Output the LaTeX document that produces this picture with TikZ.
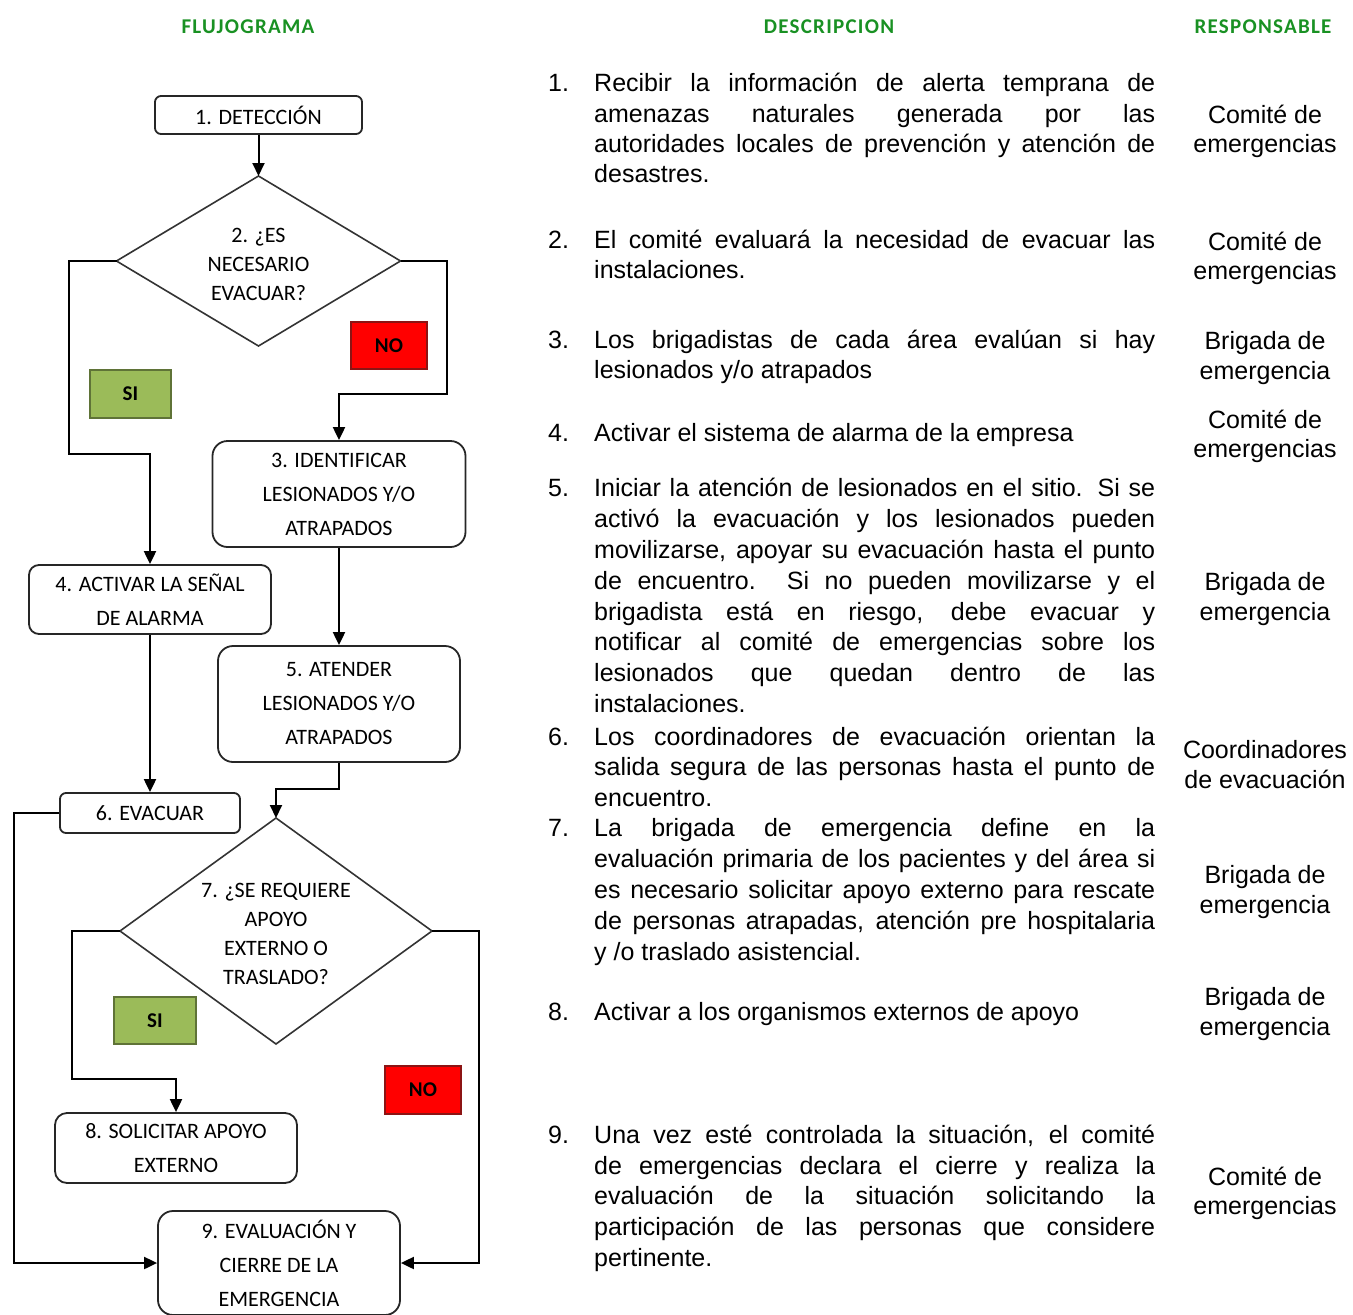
\documentclass[tikz,border=0pt]{standalone}
\usepackage{fontspec}
\setmainfont{Liberation Sans}
\newfontfamily\flowfont{Carlito}
\usetikzlibrary{arrows.meta,shapes.geometric}
\definecolor{hdrgreen}{RGB}{25,145,35}
\definecolor{sigreen}{RGB}{155,187,89}
\definecolor{siborder}{RGB}{95,115,55}
\definecolor{noborder}{RGB}{140,20,20}
\newcommand\jusline[3]{\node[dtxt] (#1) at (594,#2) {\makebox[561pt][s]{#3}};}
\newcommand\lefline[3]{\node[dtxt] (#1) at (594,#2) {#3};}
\newcommand\numline[3]{\node[dtxt] (#1) at (548,#2) {#3};}
\newcommand\respline[3]{\node[resp] (#1) at (1265,#2) {#3};}
\tikzset{
  box/.style={draw=black!85, line width=1.8pt, rounded corners=#1, align=center, inner sep=0pt,
    fill=white, font=\flowfont\fontsize{22}{34}\selectfont},
  box/.default=8,
  dia/.style={draw=black!80, line width=1.6pt, diamond, inner sep=0pt, outer sep=0pt},
  dtext/.style={align=center, inner sep=0pt, font=\flowfont\fontsize{22}{29}\selectfont},
  lab/.style={line width=1.8pt, inner sep=0pt, font=\flowfont\bfseries\fontsize{21}{24}\selectfont},
  conn/.style={draw=black, line width=2pt, -{Triangle[length=13pt,width=12pt]}},
  hdr/.style={anchor=base, inner sep=0pt, text=hdrgreen,
    font=\flowfont\bfseries\fontsize{21}{24}\selectfont\addfontfeatures{LetterSpace=6}},
  dtxt/.style={anchor=base west, inner sep=0pt, font=\fontsize{25}{30}\selectfont},
  resp/.style={anchor=base, inner sep=0pt, font=\fontsize{25}{30}\selectfont},
}
\begin{document}
\begin{tikzpicture}[x=1pt,y=-1pt]
\useasboundingbox (0,0) rectangle (1353,1315);
\fill[white] (0,0) rectangle (1353,1315);

% headers
\node[hdr] (h1) at (248,33) {FLUJOGRAMA};
\node[hdr] (h2) at (829,33) {DESCRIPCION};
\node[hdr] (h3) at (1263,33) {RESPONSABLE};

% flowchart nodes
\node[box=6, minimum width=207, minimum height=38] (n1) at (258.5,115) {1. DETECCIÓN};
\node[dia, minimum width=284, minimum height=170] (d2) at (258.5,261) {};
\node[dtext] (t2) at (258.5,264) {2. ¿ES\\NECESARIO\\EVACUAR?};
\node[box=15, minimum width=253, minimum height=106] (n3) at (339,494) {3. IDENTIFICAR\\LESIONADOS Y/O\\ATRAPADOS};
\node[box=10, minimum width=242, minimum height=69] (n4) at (150,599.5) {4. ACTIVAR LA SEÑAL\\DE ALARMA};
\node[box=15, minimum width=242, minimum height=116] (n5) at (339,704) {5. ATENDER\\LESIONADOS Y/O\\ATRAPADOS};
\node[box=6, minimum width=180, minimum height=40] (n6) at (150,813) {6. EVACUAR};
\node[dia, minimum width=312, minimum height=226] (d7) at (276,931) {};
\node[dtext] (t7) at (276,934) {7. ¿SE REQUIERE\\APOYO\\EXTERNO O\\TRASLADO?};
\node[box=12, minimum width=242, minimum height=70] (n8) at (176,1148) {8. SOLICITAR APOYO\\EXTERNO};
\node[box=15, minimum width=242, minimum height=104] (n9) at (279,1263) {9. EVALUACIÓN Y\\CIERRE DE LA\\EMERGENCIA};

% yes / no labels
\node[lab, fill=sigreen, draw=siborder, minimum width=81, minimum height=48] (si1) at (130.5,394) {SI};
\node[lab, fill=red, draw=noborder, minimum width=76, minimum height=47] (no1) at (389,345.5) {NO};
\node[lab, fill=sigreen, draw=siborder, minimum width=82, minimum height=47] (si2) at (155,1020.5) {SI};
\node[lab, fill=red, draw=noborder, minimum width=76, minimum height=48] (no2) at (423,1090) {NO};

% connectors
\coordinate (c1) at (69,454);
\coordinate (c2) at (447,394);
\coordinate (c3) at (276,789);
\coordinate (c4) at (72,1079);
\coordinate (c5) at (479,1100);
\coordinate (c6) at (14,1100);
\draw[conn] (n1.south) -- (d2.north);
\draw[conn] (d2.west) -| (c1) -| (n4.north);
\draw[conn] (d2.east) -| (c2) -| (n3.north);
\draw[conn] (n3.south) -- (n5.north);
\draw[conn] (n4.south) -- (n6.north);
\draw[conn] (n5.south) |- (c3) -- (d7.north);
\draw[conn] (d7.west) -| (c4) -| (n8.north);
\draw[conn] (d7.east) -| (c5) |- (n9.east);
\draw[conn] (n6.west) -| (c6) |- (n9.west);

% descriptions
\numline{k1}{91.7}{1.}
\jusline{p1a}{91.7}{Recibir la información de alerta temprana de}
\jusline{p1b}{122}{amenazas naturales generada por las}
\jusline{p1c}{152}{autoridades locales de prevención y atención de}
\lefline{p1d}{182}{desastres.}

\numline{k2}{248.5}{2.}
\jusline{p2a}{248.5}{El comité evaluará la necesidad de evacuar las}
\lefline{p2b}{278.5}{instalaciones.}

\numline{k3}{348.5}{3.}
\jusline{p3a}{348.5}{Los brigadistas de cada área evalúan si hay}
\lefline{p3b}{378.5}{lesionados y/o atrapados}

\numline{k4}{441.5}{4.}
\lefline{p4a}{441.5}{Activar el sistema de alarma de la empresa}

\numline{k5}{496.7}{5.}
\jusline{p5a}{496.7}{Iniciar la atención de lesionados en el sitio. Si se}
\jusline{p5b}{527.5}{activó la evacuación y los lesionados pueden}
\jusline{p5c}{558.3}{movilizarse, apoyar su evacuación hasta el punto}
\jusline{p5d}{589}{de encuentro.\ \ Si no pueden movilizarse y el}
\jusline{p5e}{620}{brigadista está en riesgo, debe evacuar y}
\jusline{p5f}{650.7}{notificar al comité de emergencias sobre los}
\jusline{p5g}{681.5}{lesionados que quedan dentro de las}
\lefline{p5h}{712}{instalaciones.}

\numline{k6}{745}{6.}
\jusline{p6a}{745}{Los coordinadores de evacuación orientan la}
\jusline{p6b}{775.8}{salida segura de las personas hasta el punto de}
\lefline{p6c}{806}{encuentro.}

\numline{k7}{836.7}{7.}
\jusline{p7a}{836.7}{La brigada de emergencia define en la}
\jusline{p7b}{867.5}{evaluación primaria de los pacientes y del área si}
\jusline{p7c}{898.3}{es necesario solicitar apoyo externo para rescate}
\jusline{p7d}{929}{de personas atrapadas, atención pre hospitalaria}
\lefline{p7e}{960}{y /o traslado asistencial.}

\numline{k8}{1020}{8.}
\lefline{p8a}{1020}{Activar a los organismos externos de apoyo}

\numline{k9}{1143.3}{9.}
\jusline{p9a}{1143.3}{Una vez esté controlada la situación, el comité}
\jusline{p9b}{1174}{de emergencias declara el cierre y realiza la}
\jusline{p9c}{1204.8}{evaluación de la situación solicitando la}
\jusline{p9d}{1235.6}{participación de las personas que considere}
\lefline{p9e}{1266.4}{pertinente.}

% responsible
\respline{r1a}{123}{Comité de}
\respline{r1b}{152}{emergencias}
\respline{r2a}{250}{Comité de}
\respline{r2b}{279}{emergencias}
\respline{r3a}{349}{Brigada de}
\respline{r3b}{379}{emergencia}
\respline{r4a}{428}{Comité de}
\respline{r4b}{457}{emergencias}
\respline{r5a}{590}{Brigada de}
\respline{r5b}{620}{emergencia}
\respline{r6a}{758}{Coordinadores}
\respline{r6b}{788}{de evacuación}
\respline{r7a}{883}{Brigada de}
\respline{r7b}{913}{emergencia}
\respline{r8a}{1005}{Brigada de}
\respline{r8b}{1035}{emergencia}
\respline{r9a}{1185}{Comité de}
\respline{r9b}{1214}{emergencias}
\end{tikzpicture}
\end{document}
